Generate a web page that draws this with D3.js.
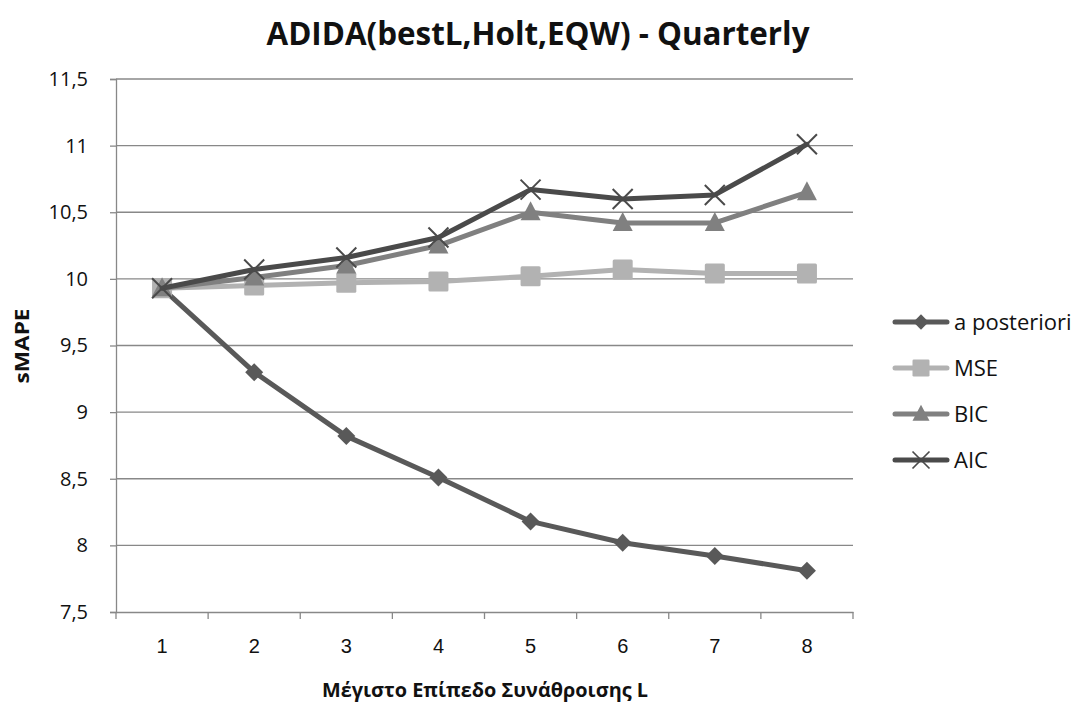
<!DOCTYPE html>
<html>
<head>
<meta charset="utf-8">
<script src="https://cdn.jsdelivr.net/npm/d3@7"></script>
<style>
  html, body { margin: 0; padding: 0; background: #fff; }
  svg { display: block; font-family: "Open Sans", "Noto Sans", sans-serif; }
</style>
</head>
<body>
<svg id="chart" width="1085" height="704"></svg>
<script>
// Aggregation levels L
const levels = [1, 2, 3, 4, 5, 6, 7, 8];
// sMAPE per selection method
const aPosteriori = [9.93, 9.30, 8.82, 8.51, 8.18, 8.02, 7.92, 7.81];
const mse         = [9.93, 9.95, 9.97, 9.98, 10.02, 10.07, 10.04, 10.04];
const bic         = [9.93, 10.01, 10.10, 10.25, 10.50, 10.42, 10.42, 10.65];
const aic         = [9.93, 10.07, 10.16, 10.31, 10.67, 10.60, 10.63, 11.01];
const yTicks = [7.5, 8, 8.5, 9, 9.5, 10, 10.5, 11, 11.5];
const seriesNames = ["a posteriori", "MSE", "BIC", "AIC"];

const series = [
  { name: seriesNames[0], values: aPosteriori, color: "#595959", marker: "diamond" },
  { name: seriesNames[1], values: mse,         color: "#b2b2b2", marker: "square" },
  { name: seriesNames[2], values: bic,         color: "#808080", marker: "triangle" },
  { name: seriesNames[3], values: aic,         color: "#4a4a4a", marker: "cross" }
];

const svg = d3.select("#chart");
const plot = { left: 116, right: 853, top: 79, bottom: 612 };

const x = d3.scaleBand().domain(levels).range([plot.left, plot.right]);
const y = d3.scaleLinear().domain([7.5, 11.5]).range([plot.bottom, plot.top]);
const fmt = v => String(v).replace(".", ",");

// horizontal gridlines
svg.append("g").selectAll("line").data(yTicks.slice(1)).join("line")
  .attr("x1", plot.left).attr("x2", plot.right)
  .attr("y1", d => y(d)).attr("y2", d => y(d))
  .attr("stroke", "#888").attr("stroke-width", 1.3);

// y axis
const yAxis = svg.append("g").attr("transform", `translate(${plot.left},0)`)
  .call(d3.axisLeft(y).tickValues(yTicks).tickFormat(fmt).tickSize(6).tickPadding(22));
yAxis.select(".domain").attr("stroke", "#888").attr("stroke-width", 1.3);
yAxis.selectAll(".tick line").attr("stroke", "#888").attr("stroke-width", 1.3);
yAxis.selectAll("text").attr("font-size", 20).attr("fill", "#111")
  .attr("font-family", "'Open Sans', sans-serif");

// x axis
const xAxis = svg.append("g").attr("transform", `translate(0,${plot.bottom})`)
  .call(d3.axisBottom(x).tickSize(0).tickPadding(27));
xAxis.select(".domain").attr("stroke", "#888").attr("stroke-width", 1.3);
xAxis.selectAll("text").attr("font-size", 20).attr("fill", "#111");
// tick marks on category boundaries
const bounds = levels.map(d => x(d)).concat([x(levels[levels.length - 1]) + x.bandwidth()]);
svg.append("g").selectAll("line").data(bounds).join("line")
  .attr("x1", d => d).attr("x2", d => d)
  .attr("y1", plot.bottom).attr("y2", plot.bottom + 7)
  .attr("stroke", "#888").attr("stroke-width", 1.3);

const cx = d => x(d) + x.bandwidth() / 2;

function drawMarker(g, type, color) {
  if (type === "diamond") {
    g.append("path").attr("d", "M0,-9L9,0L0,9L-9,0Z").attr("fill", color);
  } else if (type === "square") {
    g.append("rect").attr("x", -10).attr("y", -10).attr("width", 20).attr("height", 20)
      .attr("rx", 1.5).attr("fill", color);
  } else if (type === "triangle") {
    g.append("path").attr("d", "M0,-11L10,8L-10,8Z").attr("fill", color);
  } else if (type === "cross") {
    g.append("path").attr("d", "M-10,-10L10,10M-10,10L10,-10")
      .attr("stroke", color).attr("stroke-width", 2).attr("fill", "none");
  }
}

const line = d3.line().x((d, i) => cx(levels[i])).y(d => y(d));

series.forEach(s => {
  const g = svg.append("g");
  g.append("path").datum(s.values).attr("d", line)
    .attr("fill", "none").attr("stroke", s.color).attr("stroke-width", 5)
    .attr("stroke-linejoin", "round").attr("stroke-linecap", "round");
  s.values.forEach((v, i) => {
    const m = g.append("g").attr("transform", `translate(${cx(levels[i])},${y(v)})`);
    drawMarker(m, s.marker, s.color);
  });
});

// legend
const legend = svg.append("g");
series.forEach((s, i) => {
  const ly = 322 + i * 46;
  const row = legend.append("g").attr("transform", `translate(0,${ly})`);
  row.append("line").attr("x1", 895).attr("x2", 947).attr("y1", 0).attr("y2", 0)
    .attr("stroke", s.color).attr("stroke-width", 5).attr("stroke-linecap", "round");
  const m = row.append("g").attr("transform", "translate(921,0) scale(0.85)");
  drawMarker(m, s.marker, s.color);
  row.append("text").attr("x", 954).attr("y", 0).attr("dy", "0.35em")
    .attr("font-size", 22).attr("fill", "#111").text(s.name);
});

// titles
svg.append("text").attr("x", 538).attr("y", 45).attr("text-anchor", "middle")
  .attr("font-size", 32).attr("font-weight", "bold").attr("fill", "#111")
  .attr("textLength", 543).attr("lengthAdjust", "spacingAndGlyphs")
  .text("ADIDA(bestL,Holt,EQW) - Quarterly");
svg.append("text").attr("x", 485).attr("y", 697).attr("text-anchor", "middle")
  .attr("font-size", 19).attr("font-weight", "bold").attr("fill", "#111")
  .attr("textLength", 326).attr("lengthAdjust", "spacingAndGlyphs")
  .text("Μέγιστο Επίπεδο Συνάθροισης L");
svg.append("text").attr("transform", "translate(29,346) rotate(-90)")
  .attr("text-anchor", "middle").attr("font-size", 20).attr("font-weight", "bold")
  .attr("textLength", 75).attr("lengthAdjust", "spacingAndGlyphs")
  .attr("fill", "#111").text("sMAPE");
</script>
</body>
</html>
